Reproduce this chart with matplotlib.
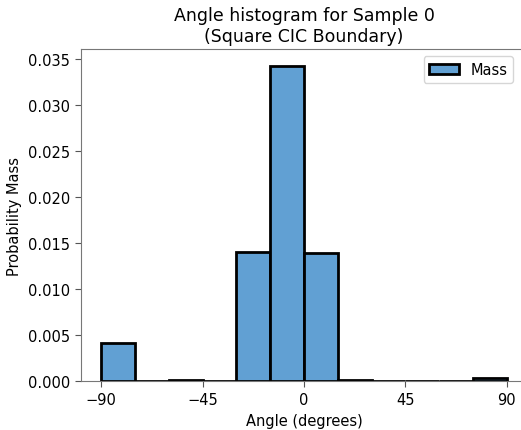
import matplotlib
matplotlib.use("Agg")
import matplotlib.pyplot as plt
import numpy as np

plt.rcParams['font.family'] = ['DejaVu Sans']

# bin edges (degrees) and probability mass per bin
bin_edges = [-90, -75, -60, -45, -30, -15, 0, 15, 30, 45, 60, 75, 90]
mass = [0.00413, 0.0, 0.0001, 0.00005, 0.01402, 0.03424, 0.0139, 0.00008, 0.0, 0.0, 0.00005, 0.0003]
x_ticks = [-90, -45, 0, 45, 90]
y_ticks = [0.000, 0.005, 0.010, 0.015, 0.020, 0.025, 0.030, 0.035]

fig = plt.figure(figsize=(5.21, 4.31), dpi=100)
ax = fig.add_axes([81 / 521, 49 / 431, 446 / 521, 332 / 431])

edges = np.asarray(bin_edges)
ax.bar(edges[:-1], mass, width=np.diff(edges), align='edge',
       color='#61a0d3', edgecolor='black', linewidth=2, label='Mass')

ax.set_xlim(-99, 99)
ax.set_ylim(0, 0.0361)
ax.set_xticks(x_ticks)
ax.set_yticks(y_ticks)
ax.set_yticklabels(["%.3f" % v for v in y_ticks])
ax.set_xticklabels([str(v).replace('-', '\u2212') for v in x_ticks])
ax.tick_params(labelsize=10.5, color='#555555', length=4.5)
for s in ax.spines.values():
    s.set_color('#777777')

ax.set_xlabel('Angle (degrees)', fontsize=10.5)
ax.set_ylabel('Probability Mass', fontsize=10.5)
ax.set_title('Angle histogram for Sample 0\n(Square CIC Boundary)', fontsize=12.5)
ax.legend(loc='upper right', fontsize=10.5, bbox_to_anchor=(0.985, 1.0))

fig.savefig('out.png', dpi=100)
